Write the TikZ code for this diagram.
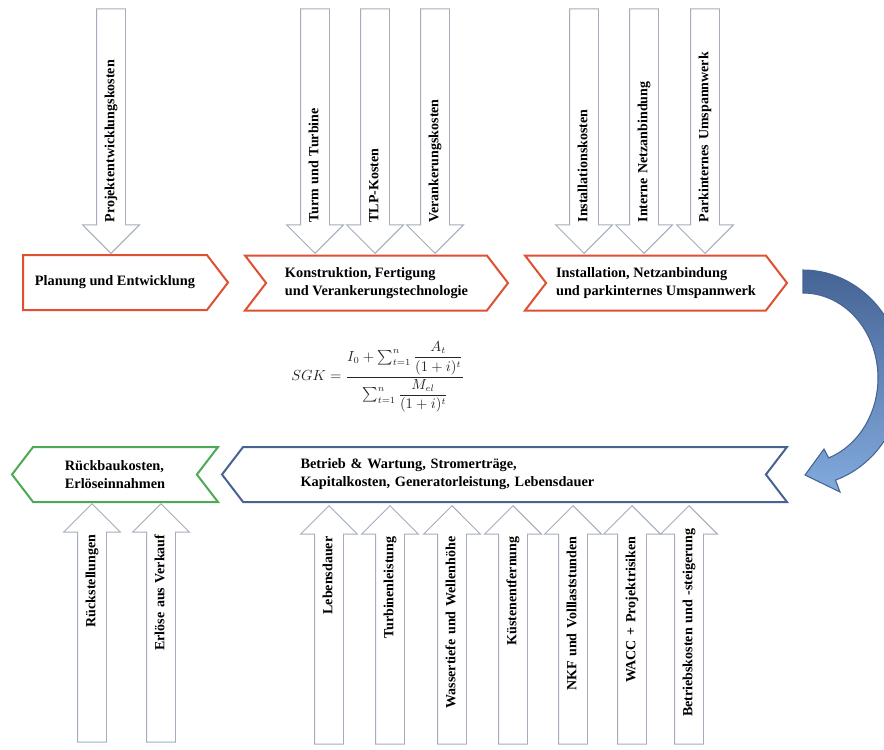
\documentclass[tikz,border=0pt]{standalone}
\usepackage{fontspec}
\setmainfont{Liberation Serif}
\usepackage{tikz}
\usetikzlibrary{arrows.meta,positioning,calc,shapes.arrows,shapes.symbols}
\usepackage{xcolor}
\usepackage{amsmath}
\definecolor{PhaseRed}{RGB}{222,80,48}
\definecolor{PhaseBlue}{RGB}{72,98,148}
\definecolor{PhaseGreen}{RGB}{76,170,84}
\definecolor{ArrowGray}{RGB}{165,172,188}
\definecolor{CycleDark}{RGB}{70,100,150}
\definecolor{CycleLight}{RGB}{130,170,220}
\tikzset{
  phasebox/.style={signal,draw,line width=1.5pt,fill=white,
    signal pointer angle=105,minimum height=41.25pt,align=left,
    font=\fontsize{10.75}{13.5}\selectfont\bfseries},
  costarrow/.style={single arrow,draw=ArrowGray,fill=white,line width=0.7pt,
    single arrow head extend=10.5pt,single arrow tip angle=90,
    rotate=90,inner ysep=6pt,text height=7pt,text depth=2pt,
    font=\fontsize{10.5}{12}\selectfont\bfseries},
  inarrow/.style={costarrow,shape border rotate=180,inner xsep=12pt,
    text width=147.75pt,align=left},
  outarrow/.style={costarrow,inner xsep=12pt,text width=143.25pt,align=right},
}

\begin{document}
\begin{tikzpicture}[x=0.75pt,y=-0.75pt]
\useasboundingbox (0,0) rectangle (884,749);
% phases
\node[phasebox,draw=PhaseRed,signal to=east,minimum width=153.75pt] (plan) at (115,282.5) {Planung und Entwicklung};
\node[phasebox,draw=PhaseRed,signal from=west,signal to=east,minimum width=197.25pt] (build) at (376.5,283) {Konstruktion, Fertigung\\und Verankerungstechnologie};
\node[phasebox,draw=PhaseRed,signal from=west,signal to=east,minimum width=196.5pt] (inst) at (656,283) {Installation, Netzanbindung\\und parkinternes Umspannwerk};
\node[phasebox,draw=PhaseBlue,signal from=east,signal to=west,minimum width=423.75pt,text width=306pt] (run) at (504.5,474.5) {Betrieb \& Wartung, Stromerträge,\\Kapitalkosten, Generatorleistung, Lebensdauer};
\node[phasebox,draw=PhaseGreen,signal from=east,signal to=west,minimum width=154.5pt] (end) at (115,474.5) {Rückbaukosten,\\Erlöseinnahmen};
% cost inputs
\node[inarrow,anchor=tip] (devcost) at (111,254) {Projektentwicklungskosten};
\node[inarrow,anchor=tip] (tower) at (315,254) {Turm und Turbine};
\node[inarrow,anchor=tip] (tlp) at (375,254) {TLP-Kosten};
\node[inarrow,anchor=tip] (anchorcost) at (435,254) {Verankerungskosten};
\node[inarrow,anchor=tip] (instcost) at (584,254) {Installationskosten};
\node[inarrow,anchor=tip] (grid) at (644,254) {Interne Netzanbindung};
\node[inarrow,anchor=tip] (substation) at (705,254) {Parkinternes Umspannwerk};
\node[outarrow,anchor=tip] (reserve) at (92,503) {Rückstellungen};
\node[outarrow,anchor=tip] (sale) at (161,503) {Erlöse aus Verkauf};
\node[outarrow,anchor=tip] (life) at (329,505) {Lebensdauer};
\node[outarrow,anchor=tip] (power) at (390,505) {Turbinenleistung};
\node[outarrow,anchor=tip] (depth) at (452,505) {Wassertiefe und Wellenhöhe};
\node[outarrow,anchor=tip] (coast) at (513,505) {Küstenentfernung};
\node[outarrow,anchor=tip] (nkf) at (573,505) {NKF und Volllaststunden};
\node[outarrow,anchor=tip] (wacc) at (632,505) {WACC + Projektrisiken};
\node[outarrow,anchor=tip,inner xsep=6pt,text width=155.25pt] (opex) at (689,505) {Betriebskosten und -steigerung};
% formula
\node[text=black!85,font=\fontsize{10.5}{12}\selectfont] (sgk) at (378,377) {$SGK=\dfrac{I_0+\sum_{t=1}^{n}\dfrac{A_t}{(1+i)^t}}{\sum_{t=1}^{n}\dfrac{M_{el}}{(1+i)^t}}$};
% cycle arrow
\draw[line width=0.8pt,draw=CycleDark,top color=CycleDark,bottom color=CycleLight]
  plot[domain=90:-71,samples=50] ({803+100*cos(\x)},{378-108*sin(\x)})
  -- (840,492) -- (805,475) -- (824,449)
  -- plot[domain=-70:90,samples=50] ({803+75*cos(\x)},{378-85*sin(\x)}) -- cycle;
\end{tikzpicture}
\end{document}
